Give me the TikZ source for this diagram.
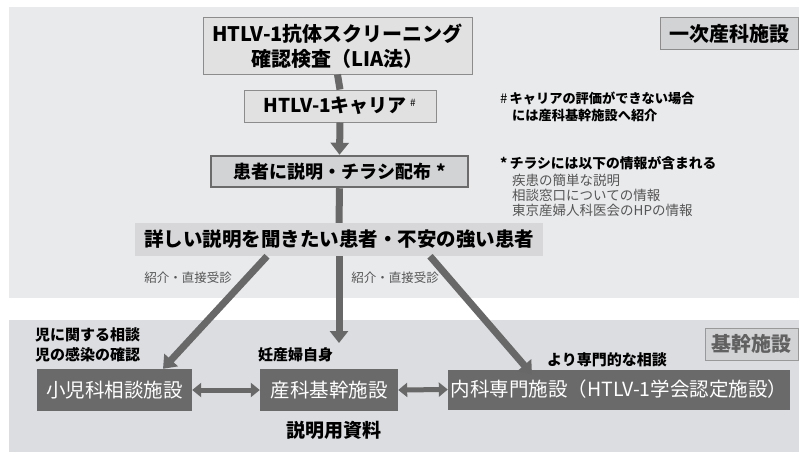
\documentclass[tikz,border=0pt]{standalone}
\usepackage{fontspec}
\setmainfont{Noto Sans CJK JP}
\usetikzlibrary{arrows.meta}
\definecolor{panelA}{HTML}{E9EAEC}
\definecolor{panelB}{HTML}{DCDDE0}
\definecolor{arrgray}{HTML}{686868}
\definecolor{darkbox}{HTML}{6A6A6A}
\definecolor{lightbox}{HTML}{E1E1E2}
\definecolor{midbox}{HTML}{D2D3D5}
\definecolor{txtgray}{HTML}{555555}
\newcommand{\fs}[1]{\fontsize{#1}{#1}\selectfont}
\tikzset{
  lbox/.style={draw=black!45, line width=1pt, fill=lightbox, inner sep=0pt, align=center, text=black},
  dbox/.style={fill=darkbox, inner sep=0pt, text=white, align=center},
  bar/.style={draw=arrgray, line width=7pt},
  arr/.style={draw=arrgray, line width=7pt, -{Triangle[width=18pt,length=12pt]}},
  darr/.style={draw=arrgray, line width=5pt, {Triangle[width=14pt,length=9pt]}-{Triangle[width=14pt,length=9pt]}},
  lbl/.style={inner sep=0pt, text=txtgray},
  note/.style={inner sep=0pt, anchor=west, align=left},
}
\begin{document}
\begin{tikzpicture}[x=1pt,y=-1pt]
\useasboundingbox (0,0) rectangle (799,452);
\fill[white] (0,0) rectangle (799,452);
\fill[panelA] (9,7) rectangle (799,298);
\fill[panelB] (9,320) rectangle (799,452);

% top flow
\node[lbox, minimum width=269pt, minimum height=56pt] (scr) at (337.5,46)
  {\fs{20}\bfseries HTLV-1抗体スクリーニング\\[5pt]\fs{20}\bfseries 確認検査（LIA法）};
\node[lbox, minimum width=192pt, minimum height=32pt] (car) at (340,106)
  {\fs{19}\bfseries HTLV-1キャリア\,\textsuperscript{\fs{10}\mdseries\#}};
\node[lbox, draw=black!58, line width=2.5pt, fill=midbox, minimum width=257pt, minimum height=31pt] (exp) at (339.5,171.5)
  {\fs{18}\bfseries 患者に説明・チラシ配布\;*};
\node[fill=midbox!90!white, inner sep=0pt, minimum width=408pt, minimum height=33pt] (pat) at (339,239.5)
  {\fs{19.5}\bfseries 詳しい説明を聞きたい患者・不安の強い患者};

\node[draw=black!45, line width=1pt, fill=midbox, inner sep=0pt, minimum width=138pt, minimum height=32pt] (prim) at (729,34)
  {\fs{20}\bfseries 一次産科施設};

% notes
\node[note] (n1) at (500,98) {\fs{13.2}\bfseries{\mdseries\#}\,キャリアの評価ができない場合};
\node[note] (n2) at (512,115) {\fs{13.2}\bfseries には産科基幹施設へ紹介};
\node[note] (n3) at (500,163) {\fs{13.8}\bfseries *\,チラシには以下の情報が含まれる};
\node[note, text=txtgray] (n4) at (512,180) {\fs{13.5}疾患の簡単な説明};
\node[note, text=txtgray] (n5) at (512,195) {\fs{13.5}相談窓口についての情報};
\node[note, text=txtgray] (n6) at (512,210) {\fs{13.5}東京産婦人科医会のHPの情報};

% bottom
\node[draw=black!40, line width=1pt, fill=midbox, inner sep=0pt, minimum width=93pt, minimum height=32pt, text=black!62] (core) at (751.5,344)
  {\fs{20}\bfseries 基幹施設};
\node[dbox, minimum width=155pt, minimum height=42pt] (kid) at (114.5,390)
  {\fs{19.5}小児科相談施設};
\node[dbox, minimum width=138pt, minimum height=42pt] (obs) at (329,390)
  {\fs{19.5}産科基幹施設};
\node[dbox, minimum width=342pt, minimum height=40pt] (int) at (619,389.5)
  {\fs{19.5}内科専門施設（HTLV-1学会認定施設）};

\node[note] (k1) at (35,335) {\fs{15}\bfseries 児に関する相談};
\node[note] (k2) at (35,355) {\fs{15}\bfseries 児の感染の確認};
\node[note] (o1) at (258,355) {\fs{15}\bfseries 妊産婦自身};
\node[note] (i1) at (547,360) {\fs{15}\bfseries より専門的な相談};
\node[inner sep=0pt] (mat) at (334,430) {\fs{19}\bfseries 説明用資料};

\node[lbl] (r1) at (188,278) {\fs{12.5}紹介・直接受診};
\node[lbl] (r2) at (395,278) {\fs{12.5}紹介・直接受診};

% connectors
\coordinate (ctip) at (339,343);
\draw[bar] (scr.south) -- (car.north);
\draw[arr] (car.south) -- (exp.north);
\draw[bar] (exp.south) -- (pat.north);
\draw[arr] ([xshift=-72pt]pat.south) -- ([xshift=48.5pt]kid.north);
\draw[arr] (pat.south) -- (ctip);
\draw[arr] ([xshift=91pt]pat.south) -- ([xshift=-87pt,yshift=-5pt]int.north);
\draw[darr] (kid.east) -- (obs.west);
\draw[darr] (obs.east) -- (int.west);
\end{tikzpicture}
\end{document}
